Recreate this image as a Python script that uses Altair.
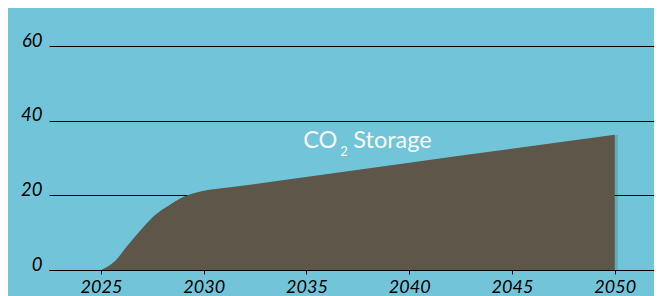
import altair as alt
import pandas as pd

# Data
years = [2025, 2025.7, 2026.3, 2027, 2027.6, 2028.3, 2028.9, 2029.6, 2030.2, 2031.2, 2032.6, 2040, 2050]
storage = [0, 2.5, 6.6, 11.1, 14.6, 17.3, 19.3, 20.7, 21.4, 22.1, 23.1, 28.7, 36.2]
x_ticks = [2025, 2030, 2035, 2040, 2045, 2050]
y_ticks = [0, 20, 40, 60]
label_parts = ["CO", "2", "Storage"]
label_year = 2036.5
label_value = 32.7

df = pd.DataFrame({"year": years, "storage": storage})
lab = pd.DataFrame({"year": [label_year], "storage": [label_value],
                    "co": [label_parts[0]], "sub": [label_parts[1]], "rest": [label_parts[2]]})

FONT = "Lato"

x_scale = alt.Scale(domain=[2022.47, 2051.91], nice=False, zero=False)
y_scale = alt.Scale(domain=[0, 60], nice=False)

x_axis = alt.Axis(
    values=x_ticks, format="d", title=None, grid=False,
    domain=True, domainColor="black", domainWidth=1,
    ticks=True, tickColor="black", tickSize=4,
    labelFont=FONT, labelFontStyle="italic", labelFontSize=18,
    labelColor="black", labelPadding=4, labelFlush=False,
)
y_axis = alt.Axis(
    values=y_ticks, title=None, grid=True, gridColor="black",
    gridWidth=1, gridOpacity=1, domain=False, ticks=False,
    labelFont=FONT, labelFontStyle="italic", labelFontSize=18.5,
    labelColor="black", labelPadding=7, labelBaseline="alphabetic",
)

shadow = alt.Chart(df).transform_calculate(
    year="datum.year + 0.15"
).mark_area(interpolate="monotone", color="#2f4f58", opacity=0.22).encode(
    x=alt.X("year:Q", scale=x_scale, axis=x_axis),
    y=alt.Y("storage:Q", scale=y_scale, axis=y_axis),
)

area = alt.Chart(df).mark_area(interpolate="monotone", color="#5E5649").encode(
    x=alt.X("year:Q", scale=x_scale, axis=x_axis),
    y=alt.Y("storage:Q", scale=y_scale, axis=y_axis),
)

base_txt = alt.Chart(lab).encode(
    x=alt.X("year:Q", scale=x_scale),
    y=alt.Y("storage:Q", scale=y_scale),
)
t_co = base_txt.mark_text(font=FONT, fontSize=23.5, color="#F5F8F8",
                          align="right", baseline="alphabetic").encode(text="co:N")
t_sub = base_txt.mark_text(font=FONT, fontSize=13, color="#F5F8F8",
                           align="left", baseline="alphabetic", dx=3, dy=8).encode(text="sub:N")
t_rest = base_txt.mark_text(font=FONT, fontSize=23.5, color="#F5F8F8",
                            align="left", baseline="alphabetic", dx=16).encode(text="rest:N")

chart = alt.layer(shadow, area, t_co, t_sub, t_rest).properties(
    width=605,
    height=224,
    autosize=alt.AutoSizeParams(type="none"),
    padding={"left": 41, "top": 38, "right": 0, "bottom": 34},
    background="#72C5D8",
).configure_view(stroke=None)

chart.save("out.html", embed_options={"renderer": "svg", "actions": False})
